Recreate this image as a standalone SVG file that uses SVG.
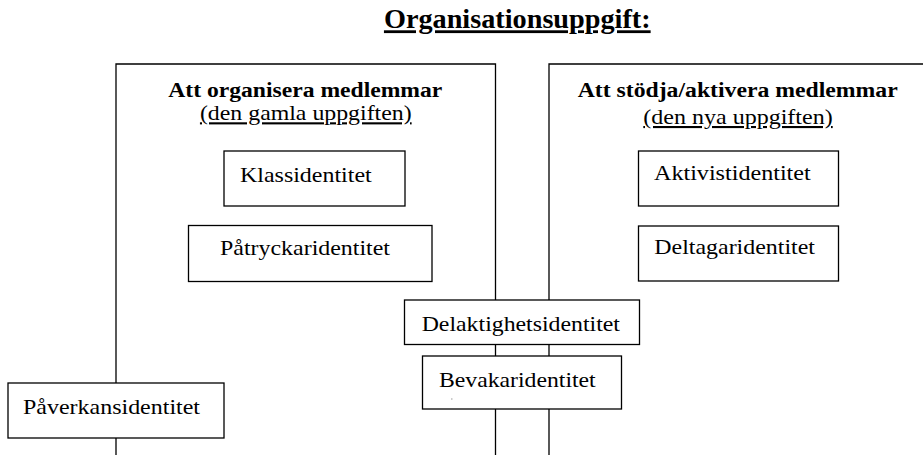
<svg xmlns="http://www.w3.org/2000/svg" width="923" height="455" viewBox="0 0 923 455" font-family="'Liberation Serif', 'DejaVu Serif', 'Times New Roman', serif">
<style>
.frame{fill:none;stroke:#000;stroke-width:1.3}
.box{fill:#fff;stroke:#000;stroke-width:1.3}
text{font-family:'Liberation Serif','DejaVu Serif','Times New Roman',serif;font-size:22px;fill:#000}
.b{font-weight:bold;font-size:20px}
.u{text-decoration:underline}
.s{font-size:21px}
</style>
<rect width="923" height="455" fill="#fff"/>
<g id="title">
<text class="b u" x="517.3" y="28.3" text-anchor="middle" style="font-size:28px" textLength="266.7" lengthAdjust="spacingAndGlyphs">Organisationsuppgift:</text>
</g>
<g id="frame-old">
<path class="frame" d="M116,456 V64 H495.5 V456"/>
<text class="b" x="305.3" y="97" text-anchor="middle" textLength="274" lengthAdjust="spacingAndGlyphs">Att organisera medlemmar</text>
<text class="u s" x="305.8" y="120.3" text-anchor="middle" textLength="211.7" lengthAdjust="spacingAndGlyphs">(den gamla uppgiften)</text>
</g>
<g id="frame-new">
<path class="frame" d="M549,456 V64 H924"/>
<text class="b" x="737.7" y="97" text-anchor="middle" textLength="320" lengthAdjust="spacingAndGlyphs">Att stödja/aktivera medlemmar</text>
<text class="u s" x="738" y="124" text-anchor="middle" textLength="189.4" lengthAdjust="spacingAndGlyphs">(den nya uppgiften)</text>
</g>
<g id="connectors"></g>
<g id="klassidentitet">
<rect class="box" x="224" y="151" width="181" height="55"/>
<text x="240" y="181.7" textLength="131.7" lengthAdjust="spacingAndGlyphs">Klassidentitet</text>
</g>
<g id="patryckaridentitet">
<rect class="box" x="188.5" y="225.5" width="243.5" height="56"/>
<text x="220" y="255" textLength="170" lengthAdjust="spacingAndGlyphs">Påtryckaridentitet</text>
</g>
<g id="aktivistidentitet">
<rect class="box" x="638.5" y="151" width="200" height="55"/>
<text x="654" y="180" textLength="156.7" lengthAdjust="spacingAndGlyphs">Aktivistidentitet</text>
</g>
<g id="deltagaridentitet">
<rect class="box" x="638.5" y="226" width="200" height="55"/>
<text x="654.3" y="254" textLength="160.7" lengthAdjust="spacingAndGlyphs">Deltagaridentitet</text>
</g>
<g id="delaktighetsidentitet">
<rect class="box" x="404.5" y="300" width="235" height="44.5"/>
<text x="421.7" y="330.7" textLength="198.3" lengthAdjust="spacingAndGlyphs">Delaktighetsidentitet</text>
</g>
<g id="bevakaridentitet">
<rect class="box" x="422.5" y="356" width="199" height="53"/>
<text x="439" y="386.7" textLength="156.7" lengthAdjust="spacingAndGlyphs">Bevakaridentitet</text>
<rect x="451" y="398.5" width="1.5" height="1" fill="#999"/>
</g>
<g id="paverkansidentitet">
<rect class="box" x="8" y="383" width="216" height="55"/>
<text x="23" y="414" textLength="177" lengthAdjust="spacingAndGlyphs">Påverkansidentitet</text>
</g>
</svg>
